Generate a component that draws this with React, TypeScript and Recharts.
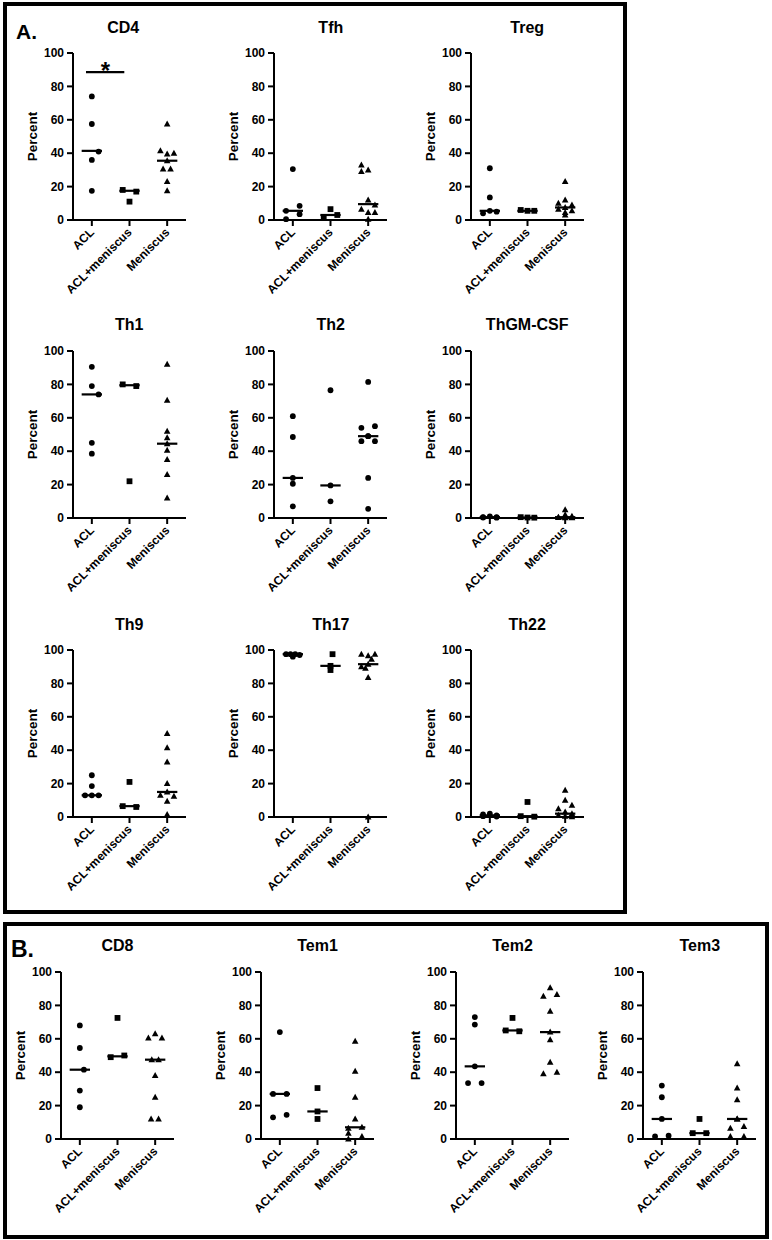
import { ScatterChart, Scatter, XAxis, YAxis, ReferenceLine, ReferenceDot } from 'recharts';

const groups = ['ACL', 'ACL+meniscus', 'Meniscus'];
const yTicks = [0, 20, 40, 60, 80, 100];

// values per group: [ACL, ACL+meniscus, Meniscus]; lanes = side-by-side slot of each dot in the swarm
const cd4Values = [[74, 57.5, 41, 36, 17.5], [18, 17, 11], [57.5, 41.5, 39.5, 40, 35.5, 30.5, 30.5, 23, 17.5]];
const cd4Lanes = [[0, 0, 1, 0, 0], [-1, 1, 0], [0, -1, 0, 1, 0, -0.6, 0.5, 0, 0]];
const cd4Medians = [41.4, 17.5, 35.5];

const tfhValues = [[30.5, 8.5, 5.5, 3.5, 0.5], [6.5, 3, 1.5], [33, 30, 29, 12, 9, 6.5, 4.5, 4.5, 0.5]];
const tfhLanes = [[0, 1, -1, 1, -1], [0, 1, -1], [-1, 0, -1, 0, 1, -1, 0, 1, 0]];
const tfhMedians = [5.5, 3, 9.5];

const tregValues = [[31, 13.5, 5.5, 5, 4], [6, 5.5, 5.5], [23, 12, 10, 9, 7.5, 6.5, 5.5, 4.5, 3]];
const tregLanes = [[0, 0, 0, 1, -1], [-1, 0, 1], [0, 0, -1, 1, 0, -1, 1, 0, 0]];
const tregMedians = [5.5, 5.5, 7.5];

const th1Values = [[90.5, 79, 74, 45, 38.5], [80, 79, 22], [92, 70.5, 52, 48, 44.5, 40.5, 35, 26, 12]];
const th1Lanes = [[0, 0, 1, 0, 0], [-1, 1, 0], [0, 0, 0, 0, 0, 0, 0, 0, 0]];
const th1Medians = [74, 79.5, 44.5];

const th2Values = [[61, 48.5, 24, 20.5, 7], [76.5, 19.5, 10], [81.5, 55, 54, 49, 49, 46, 46, 24, 5.5]];
const th2Lanes = [[0, 0, 0, 0, 0], [0, 0, 0], [0, 1, -1, 0, 0, -1, 1, 0, 0]];
const th2Medians = [24, 19.5, 49];

const thgmValues = [[1, 0.5, 0.5, 0.3, 0.2], [0.5, 0.3, 0.2], [5, 2, 1, 0.5, 0.5, 0.3, 0.3, 0.2, 0.1]];
const thgmLanes = [[0, -1, 1, -1, 1], [-1, 0, 1], [0, 0, 1, -1, 0, 1, -1, 0, 1]];
const thgmMedians = [0.5, 0.3, 0.5];

const th9Values = [[25, 18.5, 13, 13, 13], [21, 6.5, 6], [50, 41.5, 33, 20, 15, 13, 12.5, 9.5, 1.5]];
const th9Lanes = [[0, 0, -1, 0, 1], [0, -1, 1], [0, 0, 0, 0, 0, -1, 1, 0, 0]];
const th9Medians = [13, 6.5, 15];

const th17Values = [[97.5, 97.5, 97.5, 97, 96], [97.5, 90.5, 88], [97.5, 97.5, 96.5, 94.5, 91.5, 90, 89, 83.5, 0]];
const th17Lanes = [[-1, -0.35, 0.35, 1, 0], [0.3, 0, 0], [-1, 1, 0, 0.5, 0, -1, -0.4, 0, 0]];
const th17Medians = [97.5, 90.5, 91.5];

const th22Values = [[2, 1.5, 1, 0.5, 0.3], [9, 0.5, 0.2], [16, 10, 7, 5, 3, 2, 1, 0.5, 0.2]];
const th22Lanes = [[0, -1, 1, -1, 1], [0, -1, 1], [0, 0, 1, -1, 0, 1, -1, 0, 1]];
const th22Medians = [1, 0.5, 2];

const cd8Values = [[68, 54.5, 41.5, 29, 19], [72.5, 50, 49], [63, 60.5, 60.5, 47.5, 47.5, 38, 25, 12, 12]];
const cd8Lanes = [[0, 0, 0.6, 0, 0], [0, 1, -1], [0, -1, 1, -0.5, 0.5, 0, 0, -0.6, 0.5]];
const cd8Medians = [41.5, 49.5, 47.5];

const tem1Values = [[64, 27, 27, 14.5, 13], [30.5, 16.5, 12], [58.5, 40.5, 25, 12, 7, 6.5, 3.5, 1.5, 0]];
const tem1Lanes = [[0, -1, 1, 1, -1], [0, 0, 0], [0, 0, 0, 0, 1, -1, -1, 1, -1]];
const tem1Medians = [27, 16.5, 7];

const tem2Values = [[73, 68.5, 43.5, 33.5, 33.5], [72.5, 65, 64.5], [90.5, 86.5, 85.5, 76.5, 64, 59.5, 46, 40, 39]];
const tem2Lanes = [[0, 0, 0, -1, 1], [0, -1, 1], [0, 1, -1, 0, 0, 0, 0, 1, -1]];
const tem2Medians = [43.5, 65, 64];

const tem3Values = [[32, 25, 12, 2, 1.5], [12, 3.5, 3.5], [45, 30.5, 23.5, 12, 12, 7.5, 6.5, 1.5, 1.5]];
const tem3Lanes = [[0, 0, 0, 1, -1], [0, -1, 1], [0, 0, 0, 0, 0, 1, -1, -1, 1]];
const tem3Medians = [12, 3.5, 12];

type Shape = 'circle' | 'square' | 'triangle';
const usual: Shape[] = ['circle', 'square', 'triangle'];
const allCircles: Shape[] = ['circle', 'circle', 'circle'];

const LANE = 0.18;
const PLOT_W = 113;
const PLOT_H = 167;
const FONT = "'Liberation Sans', Arial, Helvetica, sans-serif";

const marker = (kind: Shape) => (props: any) => {
  const { cx, cy } = props;
  if (cx == null || cy == null) return <g />;
  if (kind === 'circle') return <circle cx={cx} cy={cy} r={2.9} fill="#000" />;
  if (kind === 'square') return <rect x={cx - 2.9} y={cy - 2.9} width={5.8} height={5.8} fill="#000" />;
  return <path d={`M${cx},${cy - 3.5}L${cx + 3.3},${cy + 2.5}L${cx - 3.3},${cy + 2.5}Z`} fill="#000" />;
};

const GroupTick = (props: any) => {
  const { x, y, payload } = props;
  const tx = x + 3;
  const ty = y + 5;
  return (
    <text x={tx} y={ty} transform={`rotate(-45, ${tx}, ${ty})`} textAnchor="end" fontSize={12} fontWeight="bold" fill="#000">
      {groups[payload.value]}
    </text>
  );
};

const Star = (props: any) => (
  <text x={props.cx} y={props.cy + 13} textAnchor="middle" fontSize={24} fontWeight="bold" fill="#000">*</text>
);

interface PanelProps {
  axisX: number;
  top: number;
  values: number[][];
  lanes: number[][];
  medians: number[];
  shapes: Shape[];
  star?: boolean;
}

const DotPanel = ({ axisX, top, values, lanes, medians, shapes, star }: PanelProps) => (
  <div style={{ position: 'absolute', left: axisX - 60, top: top - 10 }}>
    <ScatterChart width={60 + PLOT_W + 12} height={10 + PLOT_H + 95} margin={{ top: 10, right: 12, bottom: 0, left: 0 }}>
      <XAxis
        type="number"
        dataKey="x"
        domain={[-0.5, 2.5]}
        ticks={[0, 1, 2]}
        interval={0}
        height={95}
        tickSize={6}
        tick={<GroupTick />}
        axisLine={{ stroke: '#000', strokeWidth: 2 }}
        tickLine={{ stroke: '#000', strokeWidth: 2 }}
        allowDataOverflow
      />
      <YAxis
        type="number"
        dataKey="y"
        domain={[0, 100]}
        ticks={yTicks}
        width={60}
        tickSize={6}
        tickMargin={3}
        tick={{ fill: '#000', fontSize: 12, fontWeight: 'bold' }}
        axisLine={{ stroke: '#000', strokeWidth: 2 }}
        tickLine={{ stroke: '#000', strokeWidth: 2 }}
        label={{ value: 'Percent', angle: -90, position: 'insideLeft', offset: 19, style: { textAnchor: 'middle', fontSize: 13.5, fontWeight: 'bold', fill: '#000' } }}
      />
      {values.map((vals, g) => (
        <Scatter
          key={g}
          data={vals.map((v, i) => ({ x: g + lanes[g][i] * LANE, y: v }))}
          shape={marker(shapes[g])}
          isAnimationActive={false}
        />
      ))}
      {medians.map((m, g) => (
        <ReferenceLine key={'m' + g} segment={[{ x: g - 0.27, y: m }, { x: g + 0.27, y: m }]} stroke="#000" strokeWidth={2.2} />
      ))}
      {star && (
        <ReferenceLine segment={[{ x: -0.155, y: 88.5 }, { x: 0.862, y: 88.5 }]} stroke="#000" strokeWidth={2.3} />
      )}
      {star && <ReferenceDot x={0.36} y={92.5} r={0} shape={Star} />}
    </ScatterChart>
  </div>
);

const colA = [72.7, 274.3, 470.7];
const rowA = [53.3, 350.7, 650];
const colB = [61, 261, 456, 643.3];
const rowB = 971.7;

const panels = [
  { title: 'CD4', axisX: colA[0], top: rowA[0], values: cd4Values, lanes: cd4Lanes, medians: cd4Medians, shapes: usual, star: true, dx: -6 },
  { title: 'Tfh', axisX: colA[1], top: rowA[0], values: tfhValues, lanes: tfhLanes, medians: tfhMedians, shapes: usual },
  { title: 'Treg', axisX: colA[2], top: rowA[0], values: tregValues, lanes: tregLanes, medians: tregMedians, shapes: usual },
  { title: 'Th1', axisX: colA[0], top: rowA[1], values: th1Values, lanes: th1Lanes, medians: th1Medians, shapes: usual },
  { title: 'Th2', axisX: colA[1], top: rowA[1], values: th2Values, lanes: th2Lanes, medians: th2Medians, shapes: allCircles },
  { title: 'ThGM-CSF', axisX: colA[2], top: rowA[1], values: thgmValues, lanes: thgmLanes, medians: thgmMedians, shapes: usual },
  { title: 'Th9', axisX: colA[0], top: rowA[2], values: th9Values, lanes: th9Lanes, medians: th9Medians, shapes: usual },
  { title: 'Th17', axisX: colA[1], top: rowA[2], values: th17Values, lanes: th17Lanes, medians: th17Medians, shapes: usual },
  { title: 'Th22', axisX: colA[2], top: rowA[2], values: th22Values, lanes: th22Lanes, medians: th22Medians, shapes: usual },
  { title: 'CD8', axisX: colB[0], top: rowB, values: cd8Values, lanes: cd8Lanes, medians: cd8Medians, shapes: usual },
  { title: 'Tem1', axisX: colB[1], top: rowB, values: tem1Values, lanes: tem1Lanes, medians: tem1Medians, shapes: usual },
  { title: 'Tem2', axisX: colB[2], top: rowB, values: tem2Values, lanes: tem2Lanes, medians: tem2Medians, shapes: usual },
  { title: 'Tem3', axisX: colB[3], top: rowB, values: tem3Values, lanes: tem3Lanes, medians: tem3Medians, shapes: usual },
];

export default function App() {
  return (
    <div style={{ position: 'absolute', left: 0, top: 0, width: 772, height: 1240, background: '#fff', fontFamily: FONT, fontWeight: 700 }}>
      <svg width={772} height={1240} style={{ position: 'absolute', left: 0, top: 0 }}>
        <rect x={5} y={4} width={620} height={908} fill="none" stroke="#000" strokeWidth={4} />
        <rect x={5} y={924} width={762} height={313} fill="none" stroke="#000" strokeWidth={4} />
        <text x={16} y={38.5} fontSize={21} fontWeight="bold" fill="#000">A.</text>
        <text x={11} y={956.5} fontSize={23} fontWeight="bold" fill="#000">B.</text>
        {panels.map((p) => (
          <text key={p.title} x={p.axisX + PLOT_W / 2 + (p.dx || 0)} y={p.top - 20.5} textAnchor="middle" fontSize={16} fontWeight="bold" fill="#000">
            {p.title}
          </text>
        ))}
      </svg>
      {panels.map((p) => (
        <DotPanel key={p.title} axisX={p.axisX} top={p.top} values={p.values} lanes={p.lanes} medians={p.medians} shapes={p.shapes} star={p.star} />
      ))}
    </div>
  );
}
